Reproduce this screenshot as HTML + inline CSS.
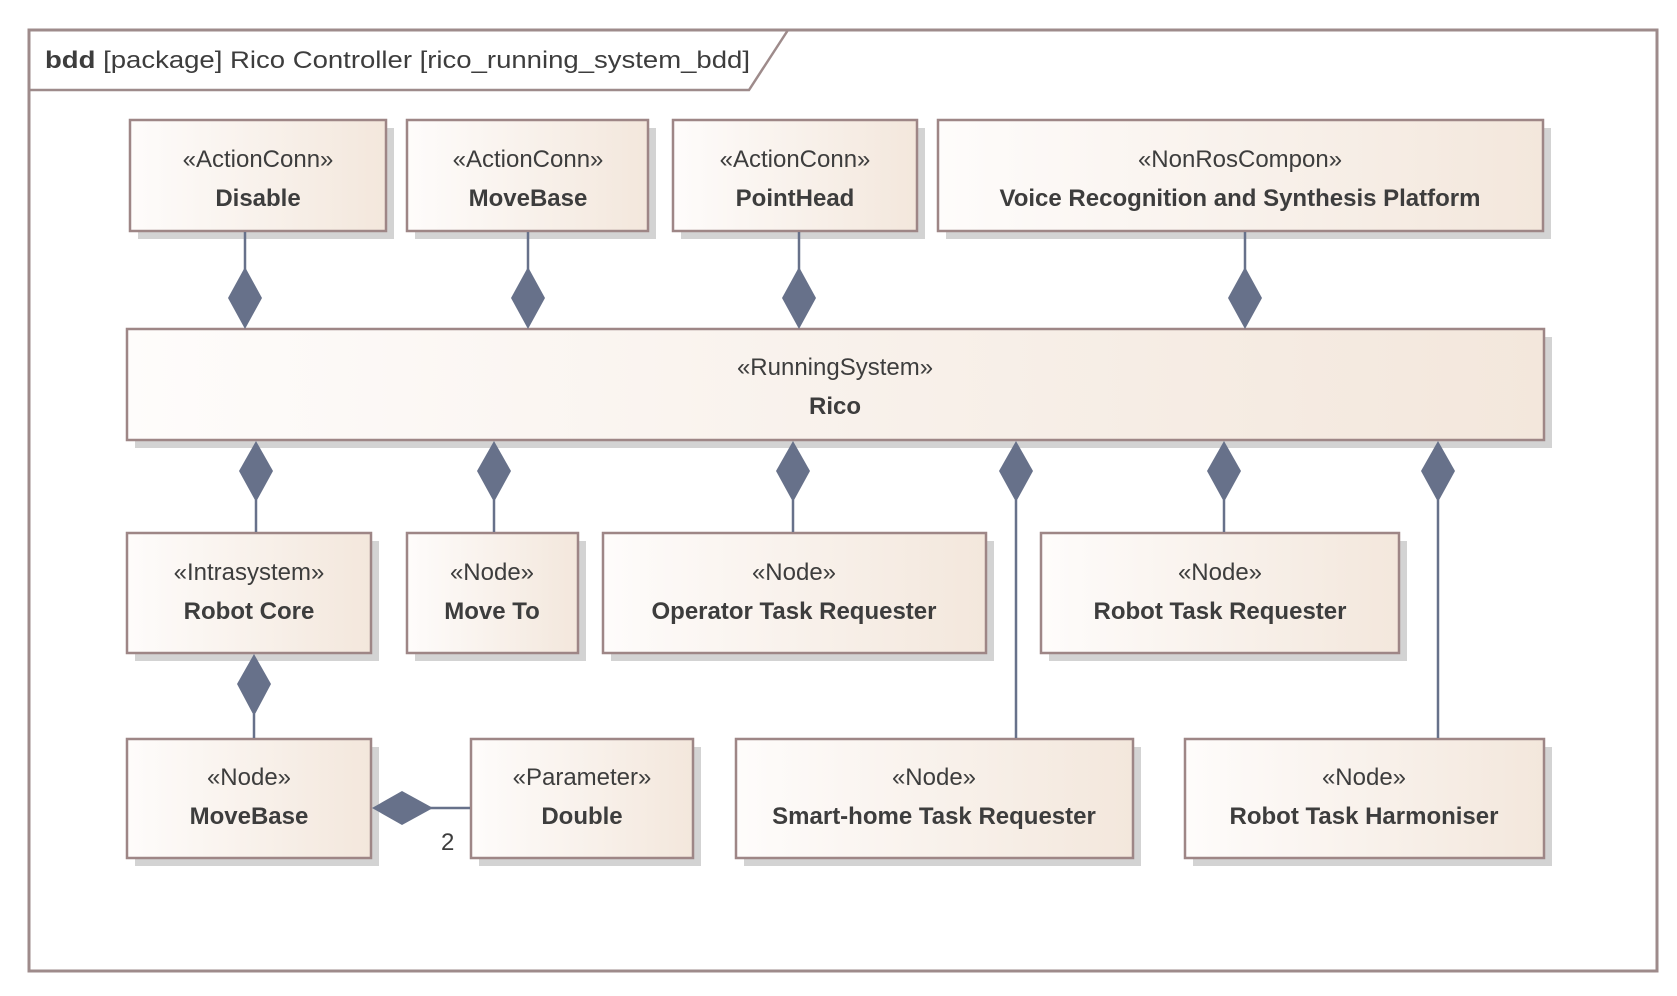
<!DOCTYPE html>
<html><head><meta charset="utf-8"><style>
html,body{margin:0;padding:0;background:#fff;}
svg{display:block;}
text{font-family:"Liberation Sans",sans-serif;fill:#3d3d3d;}
.s{font-size:24px;}
.n{font-size:24px;font-weight:bold;}
</style></head><body>
<svg width="1677" height="996" viewBox="0 0 1677 996" xmlns="http://www.w3.org/2000/svg">
<defs>
<linearGradient id="g" x1="0" x2="1" y1="0" y2="0">
<stop offset="0" stop-color="#fefcfb"/><stop offset="1" stop-color="#f3e7dc"/>
</linearGradient>
</defs>
<rect x="29" y="30" width="1628" height="941" fill="#fff" stroke="#9e8b8b" stroke-width="3"/>
<path d="M29 90 H749 L788 30" fill="none" stroke="#9e8b8b" stroke-width="2.5"/>
<text x="45" y="68" style="font-size:24px" textLength="705" lengthAdjust="spacingAndGlyphs"><tspan font-weight="bold">bdd</tspan> [package] Rico Controller [rico_running_system_bdd]</text>

<g fill="#d3d3d3">
<rect x="138" y="128" width="256" height="111"/>
<rect x="415" y="128" width="241" height="111"/>
<rect x="681" y="128" width="244" height="111"/>
<rect x="946" y="128" width="605" height="111"/>
<rect x="135" y="337" width="1417" height="111"/>
<rect x="135" y="541" width="244" height="120"/>
<rect x="415" y="541" width="171" height="120"/>
<rect x="611" y="541" width="383" height="120"/>
<rect x="1049" y="541" width="358" height="120"/>
<rect x="135" y="747" width="244" height="119"/>
<rect x="479" y="747" width="222" height="119"/>
<rect x="744" y="747" width="397" height="119"/>
<rect x="1193" y="747" width="359" height="119"/>
</g>
<g fill="url(#g)" stroke="#9e8686" stroke-width="2.5">
<rect x="130" y="120" width="256" height="111"/>
<rect x="407" y="120" width="241" height="111"/>
<rect x="673" y="120" width="244" height="111"/>
<rect x="938" y="120" width="605" height="111"/>
<rect x="127" y="329" width="1417" height="111"/>
<rect x="127" y="533" width="244" height="120"/>
<rect x="407" y="533" width="171" height="120"/>
<rect x="603" y="533" width="383" height="120"/>
<rect x="1041" y="533" width="358" height="120"/>
<rect x="127" y="739" width="244" height="119"/>
<rect x="471" y="739" width="222" height="119"/>
<rect x="736" y="739" width="397" height="119"/>
<rect x="1185" y="739" width="359" height="119"/>
</g>

<g stroke="#67718a" stroke-width="2.5">
<line x1="245" y1="232" x2="245" y2="270"/>
<line x1="528" y1="232" x2="528" y2="270"/>
<line x1="799" y1="232" x2="799" y2="270"/>
<line x1="1245" y1="232" x2="1245" y2="270"/>
<line x1="256" y1="500" x2="256" y2="532"/>
<line x1="494" y1="500" x2="494" y2="532"/>
<line x1="793" y1="500" x2="793" y2="532"/>
<line x1="1016" y1="500" x2="1016" y2="738"/>
<line x1="1224" y1="500" x2="1224" y2="532"/>
<line x1="1438" y1="500" x2="1438" y2="738"/>
<line x1="254" y1="714" x2="254" y2="738"/>
<line x1="430" y1="808" x2="470" y2="808"/>
</g>
<g fill="#67718a">
<polygon points="245,267 262,298 245,329 228,298"/>
<polygon points="528,267 545,298 528,329 511,298"/>
<polygon points="799,267 816,298 799,329 782,298"/>
<polygon points="1245,267 1262,298 1245,329 1228,298"/>
<polygon points="256,441 273,471 256,502 239,471"/>
<polygon points="494,441 511,471 494,502 477,471"/>
<polygon points="793,441 810,471 793,502 776,471"/>
<polygon points="1016,441 1033,471 1016,502 999,471"/>
<polygon points="1224,441 1241,471 1224,502 1207,471"/>
<polygon points="1438,441 1455,471 1438,502 1421,471"/>
<polygon points="254,654 271,684 254,716 237,684"/>
<polygon points="372,808 402,791 433,808 402,825"/>
</g>
<text x="441" y="850" class="s">2</text>

<g text-anchor="middle">
<text x="258" y="167" class="s">«ActionConn»</text><text x="258" y="206" class="n">Disable</text>
<text x="528" y="167" class="s">«ActionConn»</text><text x="528" y="206" class="n">MoveBase</text>
<text x="795" y="167" class="s">«ActionConn»</text><text x="795" y="206" class="n">PointHead</text>
<text x="1240" y="167" class="s">«NonRosCompon»</text><text x="1240" y="206" class="n">Voice Recognition and Synthesis Platform</text>
<text x="835" y="375" class="s">«RunningSystem»</text><text x="835" y="414" class="n">Rico</text>
<text x="249" y="580" class="s">«Intrasystem»</text><text x="249" y="619" class="n">Robot Core</text>
<text x="492" y="580" class="s">«Node»</text><text x="492" y="619" class="n">Move To</text>
<text x="794" y="580" class="s">«Node»</text><text x="794" y="619" class="n">Operator Task Requester</text>
<text x="1220" y="580" class="s">«Node»</text><text x="1220" y="619" class="n">Robot Task Requester</text>
<text x="249" y="785" class="s">«Node»</text><text x="249" y="824" class="n">MoveBase</text>
<text x="582" y="785" class="s">«Parameter»</text><text x="582" y="824" class="n">Double</text>
<text x="934" y="785" class="s">«Node»</text><text x="934" y="824" class="n">Smart-home Task Requester</text>
<text x="1364" y="785" class="s">«Node»</text><text x="1364" y="824" class="n">Robot Task Harmoniser</text>
</g>
</svg>
</body></html>
